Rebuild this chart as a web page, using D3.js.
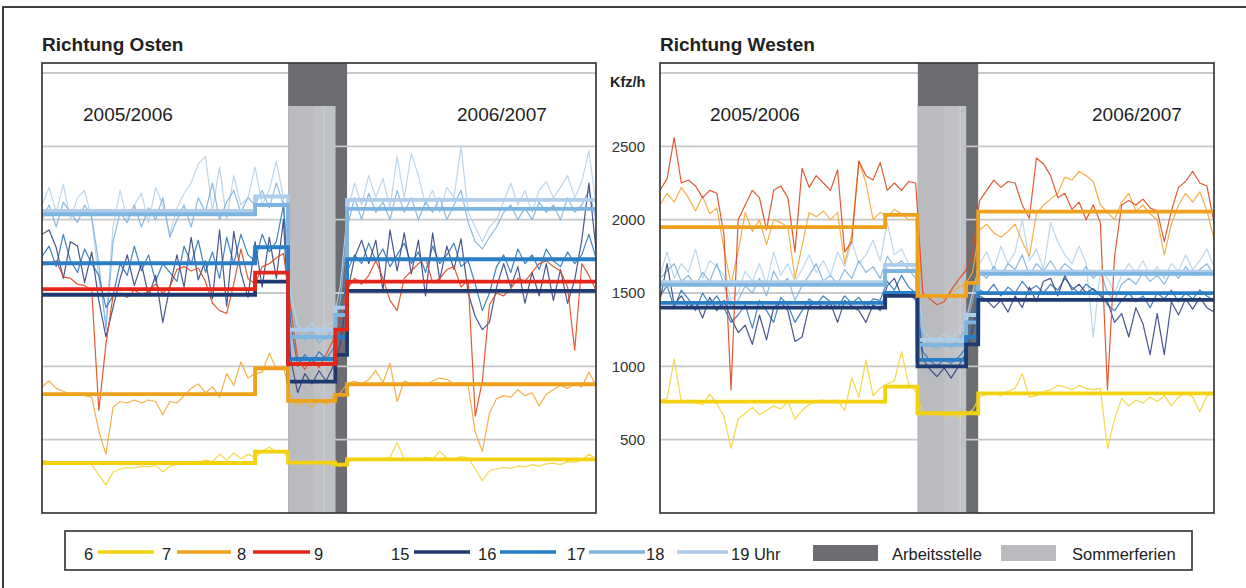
<!DOCTYPE html>
<html><head><meta charset="utf-8">
<script src="https://cdn.jsdelivr.net/npm/d3@7"></script>
<style>
body{margin:0;background:#fff}
svg{display:block;font-family:"Liberation Sans",Arial,sans-serif}
</style>
</head><body>
<svg id="c" width="1246" height="588"></svg>
<script>
// ---------------- DATA ----------------
const seriesKeys = ["6","7","8","15","16","17","18"];
const yTicks = [500,1000,1500,2000,2500];
const gridValues = [500,1000,1500,2000,2500,3000];
const ferienTop = 2775;

// Richtung Osten – daily values (Kfz/h)
const osten6 = [360,350,345,350,340,345,350,330,260,190,280,300,310,305,320,315,325,280,320,330,335,340,345,360,350,400,360,410,370,400,380,420,450,415,420,350,340,345,335,345,340,330,320,350,360,370,365,375,370,380,480,370,375,365,380,370,420,375,370,385,375,300,220,290,300,310,305,320,315,330,320,335,340,330,350,345,360,400,370,365];
const osten7 = [860,900,850,830,810,820,800,790,560,400,720,760,750,770,750,770,760,670,760,750,800,850,880,820,860,790,950,870,1030,920,950,960,1090,980,1000,790,730,760,720,770,740,790,820,880,900,880,910,970,890,1020,760,900,880,890,870,900,920,910,880,890,870,550,420,680,780,800,790,840,800,820,730,810,840,870,850,880,860,960,870,880];
const osten8 = [1690,1700,1720,1610,1600,1560,1550,1520,700,1150,1480,1500,1470,1520,1490,1510,1560,1500,1540,1660,1680,1650,1670,1580,1430,1380,1360,1560,1800,1600,1560,1680,1700,1740,1770,1400,1050,980,1060,990,1080,1180,1320,1530,1600,1560,1620,1720,1600,1450,1380,1600,1650,1700,1740,1570,1600,1660,1680,1540,1590,660,900,1420,1500,1480,1530,1600,1580,1640,1700,1720,1680,1650,1540,1110,1700,1620,1520,1430];
const osten15 = [1900,1930,1810,1600,1850,1820,1570,1780,1450,1200,1400,1600,1760,1550,1700,1480,1620,1300,1540,1760,1540,1880,1590,1720,1460,1930,1410,1920,1640,1470,1850,1540,1880,1600,2000,1050,820,950,880,970,900,1000,1150,1500,1740,1860,1700,1860,1520,1930,1650,1910,1630,1860,1480,1910,1590,1820,1660,1870,1500,1340,1250,1300,1540,1700,1540,1680,1430,1640,1480,1700,1450,1660,1430,1590,1860,2250,1800,1650];
const osten16 = [1750,1820,1680,1900,1720,1640,1800,1700,1620,1400,1480,1700,1620,1820,1650,1760,1580,1700,1640,1580,1820,1700,1860,1640,1780,1600,1880,1700,1900,1760,1720,1900,1780,1850,2100,1300,1000,1080,1020,1100,1050,1120,1300,1650,1760,1700,1840,1720,1800,1680,1760,1840,1700,1780,1640,1820,1700,1760,1840,1680,1720,1560,1380,1500,1680,1760,1640,1800,1700,1760,1660,1800,1720,1680,1780,1700,1760,1900,1740,1700];
const osten17 = [2000,2100,1950,2120,2050,1980,2100,2020,1700,1250,1850,2050,1980,2100,1950,2080,2000,2150,1880,2000,2100,1950,2150,2050,2250,2000,2120,2200,2050,2150,2100,2200,2080,2250,2100,1400,1220,1180,1240,1160,1200,1250,1450,1950,2150,2000,2180,2050,2120,2000,2200,2050,2150,2000,2120,2050,2150,2000,2100,2200,1980,1850,1800,1880,1950,2050,2100,2000,2080,2000,2120,2050,2100,2000,2150,2050,2100,2200,2000,2100];
const osten18 = [2100,2220,2050,2240,2000,2150,2200,2000,1600,1300,1950,2200,2000,2100,2180,1980,2220,2100,1900,2080,2180,2250,2380,2430,2060,2360,2000,2300,2100,2150,2360,2100,2200,2400,2150,1500,1280,1240,1300,1220,1280,1300,1550,2050,2250,2100,2300,2150,2280,2080,2430,2150,2450,2300,2100,2200,2050,2220,2150,2500,2050,1950,1850,1950,2000,2120,2250,2100,2200,2050,2200,2260,2150,2220,2300,2150,2260,2470,2100,2250];

// Richtung Westen – daily values (Kfz/h)
const westen6 = [770,780,1050,760,770,750,740,810,745,660,440,640,680,720,670,700,730,710,760,640,700,740,760,770,760,770,700,920,790,1040,800,850,880,900,1100,880,830,690,670,680,660,675,650,680,700,790,810,820,800,830,850,950,790,800,830,840,870,860,840,870,850,840,850,440,640,780,730,770,750,790,760,800,730,790,820,790,690,800,810,800];
const westen7 = [2100,2180,2120,2220,2150,2060,2160,2040,2080,1800,1560,1780,2050,1920,2000,1830,2000,1980,1950,1600,1820,2050,2020,2060,2000,2050,1700,1900,2400,2250,2000,2050,2020,2070,2040,2000,2000,1500,1470,1490,1460,1500,1540,1560,1640,1930,1970,1910,1880,1920,1970,1850,1750,2040,2100,2140,2180,2290,2270,2330,2300,2260,2100,2050,2000,2120,2180,2060,2100,2040,2000,1760,1970,2100,2180,2120,2190,2060,1870,1800];
const westen8 = [2200,2280,2560,2250,2270,2230,2150,2200,2180,1900,840,2000,2100,2200,2150,1930,2200,2230,2150,1780,2350,2220,2300,2250,2200,2340,1780,1850,2400,2300,2270,2390,2200,2250,2200,2260,2250,1500,1460,1420,1440,1520,1590,1650,1760,2130,2200,2270,2220,2260,2250,2100,2010,2420,2380,2300,2150,2180,2070,2120,2000,2100,1980,840,1750,2100,2130,2100,2140,2080,2060,1850,2060,2220,2260,2330,2250,2230,1980,1900];
const westen15 = [1450,1700,1420,1480,1400,1440,1330,1470,1380,1450,1330,1230,1280,1150,1350,1180,1400,1440,1380,1170,1200,1410,1440,1400,1430,1300,1450,1410,1380,1300,1420,1380,1550,1600,1480,1500,1450,1050,980,930,990,920,1000,1080,1250,1480,1450,1400,1450,1370,1480,1400,1540,1440,1580,1600,1480,1620,1520,1560,1500,1530,1480,1440,1300,1360,1200,1400,1290,1080,1360,1080,1440,1350,1460,1390,1470,1400,1370,1420];
const westen16 = [1480,1550,1400,1520,1460,1380,1500,1420,1480,1400,1300,1350,1420,1260,1450,1380,1300,1470,1420,1300,1380,1460,1420,1480,1440,1400,1480,1430,1470,1400,1460,1450,1580,1520,1620,1540,1500,1100,1040,1000,1050,1020,1060,1120,1300,1520,1500,1560,1480,1540,1500,1580,1520,1550,1500,1560,1520,1600,1540,1500,1560,1520,1500,1420,1380,1450,1500,1440,1480,1400,1500,1460,1520,1440,1500,1460,1520,1480,1450,1500];
const westen17 = [1600,1650,1700,1580,1620,1550,1640,1580,1700,1560,1400,1450,1550,1500,1600,1480,1650,1560,1600,1450,1550,1620,1700,1580,1620,1560,1660,1600,1720,1640,1680,1600,1750,1680,1720,1660,1600,1200,1150,1120,1160,1130,1180,1250,1450,1640,1600,1680,1620,1700,1660,1760,1620,1700,1650,1720,1640,1700,1660,1620,1680,1600,1650,1500,1450,1560,1600,1560,1640,1580,1620,1560,1650,1600,1680,1620,1660,1700,1620,1640];
const westen18 = [1620,1780,1600,1700,1640,1800,1600,1720,1680,1620,1450,1500,1650,1580,1700,1560,1780,1620,1700,1580,1660,1760,1640,1720,1620,1780,1680,1850,1700,1760,1860,1720,1980,1760,1800,1700,1650,1250,1200,1180,1220,1190,1240,1300,1500,1700,1780,1660,1820,1700,1780,2000,1720,1800,1660,1980,1850,1760,1700,1820,1700,1200,1650,1600,1500,1620,1700,1640,1720,1620,1680,1600,1700,1650,1760,1660,1720,1800,1680,1700];

// period means (step lines): period breaks in day-index units, one value per period
const ostenBreaks = [0, 30, 34.65, 41.3, 42.95, 79];
const ostenMean6  = [341, 418, 343, 330, 366];
const ostenMean7  = [810, 987, 764, 805, 878];
const ostenMean8  = [1526, 1639, 1016, 1250, 1578];
const ostenMean15 = [1487, 1578, 896, 1078, 1514];
const ostenMean16 = [1703, 1812, 1050, 1200, 1730];
const ostenMean17 = [2037, 2100, 1200, 1350, 2074];
const ostenMean18 = [2060, 2158, 1250, 1400, 2135];

const westenBreaks = [0, 31.7, 36.25, 43.1, 44.8, 79];
const westenMean6  = [759, 862, 680, 680, 816];
const westenMean7  = [1949, 2033, 1480, 1569, 2055];
const westenMean15 = [1400, 1480, 1000, 1150, 1453];
const westenMean16 = [1432, 1500, 1044, 1200, 1499];
const westenMean17 = [1555, 1650, 1146, 1300, 1630];
const westenMean18 = [1574, 1692, 1180, 1350, 1646];

// bands (day-index units)
const ostenArbeit = [34.65, 42.95];
const ostenFerien = [34.65, 41.3];
const ostenFerienSplit = [38.3, 39.7];
const westenArbeit = [36.3, 44.8];
const westenFerien = [36.25, 43.1];
const westenFerienSplit = [40.0, 42.25];

const legendHours = ["6","7","8","9","15","16","17","18","19 Uhr"];

// ---------------- STYLE ----------------
const thinColor  = {"6":"#f2d53c","7":"#f2a93c","8":"#e04b22","15":"#3a4684","16":"#2f78bb","17":"#80b3dc","18":"#b6d2ea"};
const thickColor = {"6":"#f2d10e","7":"#eea11d","8":"#e3261b","15":"#1e3a70","16":"#2a7ec5","17":"#7db4e0","18":"#aecdea"};
const darkBand = "#6c6d70", lightBand = "#b9bbbe";

const svg = d3.select("#c");
svg.append("rect").attr("width",1246).attr("height",588).attr("fill","#fff");
// outer frame
svg.append("rect").attr("x",3).attr("y",7).attr("width",1270).attr("height",620)
  .attr("fill","none").attr("stroke","#2a2a2a").attr("stroke-width",1.8);

const yScale = d3.scaleLinear().domain([0,3000]).range([513,73]);
const TOP = 63, BOTTOM = 513;

function drawPanel(cfg){
  const x = d3.scaleLinear().domain([0,78]).range([cfg.left, cfg.right]);
  const y = yScale;
  const g = svg.append("g");
  g.append("clipPath").attr("id",cfg.id).append("rect")
    .attr("x",cfg.left).attr("y",TOP).attr("width",cfg.right-cfg.left).attr("height",BOTTOM-TOP);
  const gc = g.append("g").attr("clip-path",`url(#${cfg.id})`);
  const grid = v => gc.append("line").attr("x1",cfg.left).attr("x2",cfg.right)
      .attr("y1",y(v)).attr("y2",y(v)).attr("stroke","#c8c8c8").attr("stroke-width",1.8);
  grid(3000);
  gc.append("rect").attr("x",x(cfg.arbeit[0])).attr("y",TOP-2)
    .attr("width",x(cfg.arbeit[1])-x(cfg.arbeit[0])).attr("height",BOTTOM-TOP+2).attr("fill",darkBand);
  gridValues.filter(v=>v<3000).forEach(grid);
  gc.append("rect").attr("x",x(cfg.ferien[0])).attr("y",y(ferienTop))
    .attr("width",x(cfg.ferien[1])-x(cfg.ferien[0])).attr("height",BOTTOM-y(ferienTop)).attr("fill",lightBand);
  gc.append("rect").attr("x",x(cfg.split[0])).attr("y",y(ferienTop))
    .attr("width",x(cfg.ferien[1])-x(cfg.split[0])).attr("height",BOTTOM-y(ferienTop)).attr("fill","#bfc1c4");
  gc.append("line").attr("x1",x(cfg.split[1])).attr("x2",x(cfg.split[1])).attr("y1",y(ferienTop)).attr("y2",BOTTOM)
    .attr("stroke","#cdd0d2").attr("stroke-width",1);

  const line = d3.line().x((d,i)=>x(i)).y(d=>y(d));
  ["18","17","16","15","6","7","8"].forEach(k=>{
    if(!cfg.daily[k]) return;
    gc.append("path").datum(cfg.daily[k]).attr("d",line).attr("fill","none")
      .attr("stroke",thinColor[k]).attr("stroke-width",1.2).attr("stroke-linejoin","round").attr("opacity",0.92);
  });
  const step = d3.line().x(d=>x(d[0])).y(d=>y(d[1])).curve(d3.curveStepAfter);
  ["18","17","16","15","8","7","6"].forEach(k=>{
    const m = cfg.means[k]; if(!m) return;
    const pts = m.map((v,j)=>[cfg.breaks[j], v]);
    pts.push([cfg.breaks[cfg.breaks.length-1], m[m.length-1]]);
    gc.append("path").datum(pts).attr("d",step).attr("fill","none")
      .attr("stroke",thickColor[k]).attr("stroke-width",3.8);
  });
  g.append("rect").attr("x",cfg.left).attr("y",TOP).attr("width",cfg.right-cfg.left).attr("height",BOTTOM-TOP)
    .attr("fill","none").attr("stroke","#3a3a3a").attr("stroke-width",1.7);
  svg.append("text").attr("x",cfg.left).attr("y",51).attr("font-size",19).attr("font-weight","bold")
    .attr("fill","#222").text(cfg.title);
  cfg.years.forEach((t,j)=> svg.append("text").attr("x",cfg.yearX[j]).attr("y",121)
    .attr("font-size",19).attr("fill","#222").text(t));
}

drawPanel({id:"clipO", left:42, right:596, title:"Richtung Osten",
  daily:{"6":osten6,"7":osten7,"8":osten8,"15":osten15,"16":osten16,"17":osten17,"18":osten18},
  means:{"6":ostenMean6,"7":ostenMean7,"8":ostenMean8,"15":ostenMean15,"16":ostenMean16,"17":ostenMean17,"18":ostenMean18},
  breaks:ostenBreaks, arbeit:ostenArbeit, ferien:ostenFerien, split:ostenFerienSplit,
  years:["2005/2006","2006/2007"], yearX:[83,457]});

drawPanel({id:"clipW", left:660, right:1214, title:"Richtung Westen",
  daily:{"6":westen6,"7":westen7,"8":westen8,"15":westen15,"16":westen16,"17":westen17,"18":westen18},
  means:{"6":westenMean6,"7":westenMean7,"15":westenMean15,"16":westenMean16,"17":westenMean17,"18":westenMean18},
  breaks:westenBreaks, arbeit:westenArbeit, ferien:westenFerien, split:westenFerienSplit,
  years:["2005/2006","2006/2007"], yearX:[710,1092]});

// y axis (Westen)
const ax = svg.append("g").attr("transform","translate(660,0)")
  .call(d3.axisLeft(yScale).tickValues(yTicks).tickSize(0).tickPadding(15).tickFormat(d3.format("d")));
ax.select(".domain").remove();
ax.selectAll("text").attr("font-size",15).attr("fill","#333").attr("font-family","Liberation Sans, Arial, sans-serif");
svg.append("text").attr("x",610).attr("y",87).attr("font-size",14.5).attr("font-weight","bold").attr("fill","#222").text("Kfz/h");

// legend
const lg = svg.append("g").attr("font-size",16.5).attr("fill","#222");
lg.append("rect").attr("x",65).attr("y",531).attr("width",1127).attr("height",39)
  .attr("fill","#fff").attr("stroke","#3a3a3a").attr("stroke-width",1.7);
const labelX = [84,162,237,314,391,478,567,646,731];
legendHours.forEach((t,i)=> lg.append("text").attr("x",labelX[i]).attr("y",560).text(t));
const legLines = [["6",98,154],["7",177,231],["8",253,310],["15",414,470],["16",500,556],["17",589,645],["18",677,728]];
legLines.forEach(([k,a,b])=> lg.append("line").attr("x1",a).attr("x2",b).attr("y1",552).attr("y2",552)
  .attr("stroke",thickColor[k]).attr("stroke-width",3.5));
lg.append("rect").attr("x",813).attr("y",545).attr("width",65).attr("height",16).attr("fill",darkBand);
lg.append("text").attr("x",892).attr("y",560).text("Arbeitsstelle");
lg.append("rect").attr("x",1001).attr("y",545).attr("width",55).attr("height",16).attr("fill",lightBand);
lg.append("text").attr("x",1072).attr("y",560).text("Sommerferien");
</script>
</body></html>
